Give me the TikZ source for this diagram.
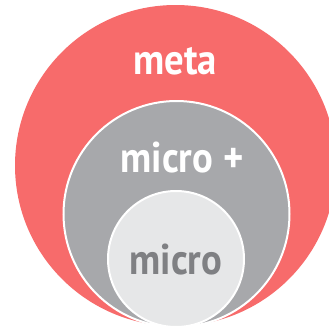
\documentclass[tikz,border=0pt]{standalone}
\usepackage{fontspec}
\setmainfont{PT Sans}
\definecolor{metared}{HTML}{F76B6B}
\definecolor{microplus}{HTML}{A7A8AB}
\definecolor{microlight}{HTML}{E6E7E8}
\definecolor{microtext}{HTML}{7F8083}
\newcommand{\narrowtxt}[1]{\scalebox{0.9}[1]{#1}}
\tikzset{
  ring/.style={draw=white, line width=2pt},
  lbl/.style={font=\fontsize{43}{46}\selectfont\bfseries, inner sep=0pt}
}
\begin{document}
\begin{tikzpicture}[x=1pt,y=-1pt]
\useasboundingbox (0,0) rectangle (329,330);
\clip (0,0) rectangle (329,330);
\fill[white] (0,0) rectangle (329,330);
\fill[metared] (175.5,165.5) circle (160.5);
\filldraw[ring, fill=microplus] (176.5,214) circle (113);
\filldraw[ring, fill=microlight] (176,259) circle (68);
\node[lbl, text=white] (meta) at (175,61) {\narrowtxt{meta}};
\node[lbl, text=white] (microp) at (182,158) {\narrowtxt{micro +}};
\node[lbl, text=microtext] (micro) at (176,260) {\narrowtxt{micro}};
\end{tikzpicture}
\end{document}
